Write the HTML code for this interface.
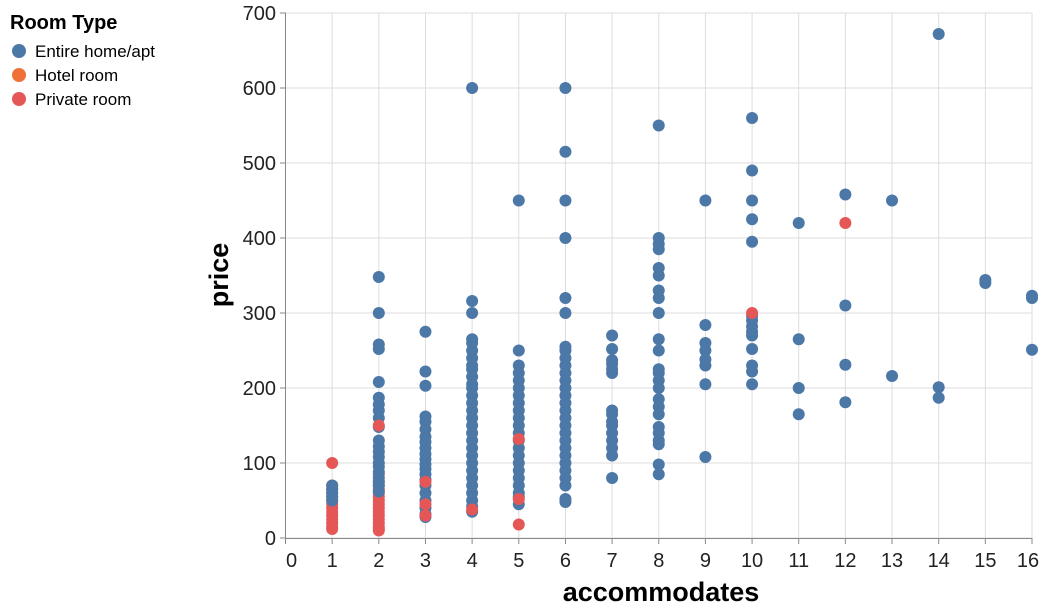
<!DOCTYPE html>
<html><head><meta charset="utf-8"><style>
body{margin:0;background:#fff;}
svg text{font-family:"Liberation Sans",Arial,sans-serif;}
</style></head><body>
<svg id="chart" width="1056" height="611">
<g>
<text x="10" y="29" font-size="20" font-weight="bold">Room Type</text>
<g><circle cx="19" cy="51" r="7" fill="#4c78a8"/><text x="35" y="57" font-size="17">Entire home/apt</text></g>
<g><circle cx="19" cy="75" r="7" fill="#ef7138"/><text x="35" y="81" font-size="17">Hotel room</text></g>
<g><circle cx="19" cy="99" r="7" fill="#e45756"/><text x="35" y="105" font-size="17">Private room</text></g>
</g>
<g id="grid"></g>
<g id="axes"></g>
<g id="marks"></g>
<text x="228" y="275" font-size="27" font-weight="bold" text-anchor="middle" transform="rotate(-90 228 275)">price</text>
<text x="661" y="601" font-size="27" font-weight="bold" text-anchor="middle">accommodates</text>
</svg>
<script>
const xTicks=[0,1,2,3,4,5,6,7,8,9,10,11,12,13,14,15,16];
const yTicks=[0,100,200,300,400,500,600,700];
const entireX=[1,1,1,1,1,
2,2,2,2,2,2,2,2,2,2,2,2,2,2,2,2,2,2,2,2,2,
3,3,3,3,3,3,3,3,3,3,3,3,3,3,3,3,3,3,3,3,3,
4,4,4,4,4,4,4,4,4,4,4,4,4,4,4,4,4,4,4,4,4,4,4,4,4,4,4,4,4,
5,5,5,5,5,5,5,5,5,5,5,5,5,5,5,5,5,5,5,5,5,5,
6,6,6,6,6,6,6,6,6,6,6,6,6,6,6,6,6,6,6,6,6,6,6,6,6,6,6,6,
7,7,7,7,7,7,7,7,7,7,7,7,7,7,7,
8,8,8,8,8,8,8,8,8,8,8,8,8,8,8,8,8,8,8,8,8,8,8,8,
9,9,9,9,9,9,9,9,
10,10,10,10,10,10,10,10,10,10,10,10,10,10,
11,11,11,11,12,12,12,12,13,13,14,14,14,15,15,16,16,16];
const entireY=[70,65,60,55,50,
348,300,258,252,208,187,178,170,160,148,130,122,115,108,100,95,88,80,75,70,62,
275,222,203,162,155,145,135,128,120,112,105,98,92,85,78,70,60,50,40,32,28,
600,316,300,265,260,250,240,230,225,215,205,200,190,180,170,160,150,140,130,120,110,100,90,80,70,60,50,42,35,
450,250,230,220,210,200,190,180,170,160,150,140,130,120,110,100,90,80,70,60,55,45,
600,515,450,400,320,300,255,250,240,230,220,210,200,190,180,170,160,150,140,130,120,110,100,90,80,70,52,48,
270,252,237,232,225,220,170,165,155,150,140,130,120,110,80,
550,400,392,385,360,350,330,320,300,265,250,225,220,210,200,185,175,165,148,140,130,125,98,85,
450,284,260,250,238,230,205,108,
560,490,450,425,395,290,282,275,270,252,230,222,205,296,
420,265,200,165,458,310,231,181,450,216,672,201,187,344,340,323,320,251];
const privateX=[1,1,1,1,1,1,1,1,1,1,1,1,1,2,2,2,2,2,2,2,2,2,2,2,2,2,2,2,2,3,3,3,4,5,5,5,10,12,2];
const privateY=[70,65,60,55,50,45,40,35,30,25,20,15,12,85,75,70,65,60,55,50,45,40,35,30,25,20,15,12,10,75,45,30,38,132,52,18,300,420,150];
const privateTopX=[1];
const privateTopY=[100];
const ns="http://www.w3.org/2000/svg";
const X=v=>285.5+v*(1032-285.5)/16;
const Y=v=>538-v*(525/700);
const grid=document.getElementById('grid'),axes=document.getElementById('axes'),marks=document.getElementById('marks');
function mk(t,a,p){const e=document.createElementNS(ns,t);for(const k in a)e.setAttribute(k,a[k]);p.appendChild(e);return e;}
xTicks.forEach(t=>{
 const l=mk('line',{x1:X(t),x2:X(t),y1:13,y2:538,stroke:'#ddd'},grid);
 
 
 mk('line',{x1:X(t),x2:X(t),y1:538,y2:544,stroke:'#888'},axes);
 const tx=mk('text',{x:X(t)+(t==0?6:(t==16?-4:0)),y:567,'font-size':20,'text-anchor':'middle',fill:'#222'},axes);tx.textContent=t;
 
 
});
yTicks.forEach(t=>{
 const l=mk('line',{x1:286,x2:1032,y1:Y(t),y2:Y(t),stroke:'#ddd'},grid);
 
 
 mk('line',{x1:280,x2:286,y1:Y(t),y2:Y(t),stroke:'#888'},axes);
 const tx=mk('text',{x:276,y:Y(t)+7,'font-size':20,'text-anchor':'end',fill:'#222'},axes);tx.textContent=t;
 
 
});
mk('line',{x1:285.5,x2:285.5,y1:13,y2:538,stroke:'#888'},axes);
mk('line',{x1:286,x2:1032,y1:538.5,y2:538.5,stroke:'#888'},axes);
function draw(xs,ys,c,n){xs.forEach((x,i)=>{const p=mk('circle',{cx:X(x),cy:Y(ys[i]),r:6,fill:c},marks);
 
 });}
draw(privateX.slice(0,29),privateY.slice(0,29),'#e45756','point-private-room');
draw(entireX,entireY,'#4c78a8','point-entire-home');
draw(privateX.slice(29),privateY.slice(29),'#e45756','point-private-room');
draw(privateTopX,privateTopY,'#e45756','point-private-room');
</script>
</body></html>
